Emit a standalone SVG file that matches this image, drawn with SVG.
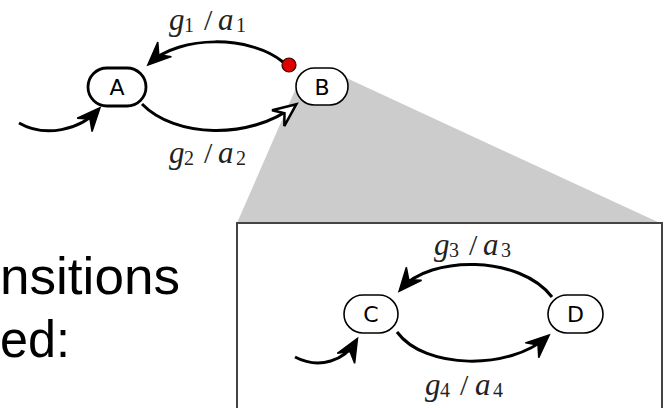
<svg xmlns="http://www.w3.org/2000/svg" width="667" height="408" viewBox="0 0 667 408">
<defs>
<style>
.edge{fill:none;stroke:#000;stroke-width:3;}
.node{fill:#fff;stroke:#000;}
.nlab{font-family:"DejaVu Sans",sans-serif;font-size:22px;text-anchor:middle;fill:#000;}
.m{font-family:"Liberation Serif",serif;font-style:italic;font-size:31px;fill:#222;}
.s{font-family:"Liberation Serif",serif;font-size:20px;fill:#222;}
.sl{font-family:"Liberation Serif",serif;font-size:30px;fill:#222;}
.big{font-family:"Liberation Sans",sans-serif;font-size:52px;fill:#000;}
</style>
<marker id="arr" viewBox="-26 -13 30 26" refX="-3" refY="0" markerWidth="30" markerHeight="26" markerUnits="userSpaceOnUse" orient="auto">
<path d="M0,0 L-23,-10 L-15,0 L-23,10 Z" fill="#000" stroke="#000" stroke-width="1.5" stroke-linejoin="miter"/>
</marker>
<marker id="arrOpen" viewBox="-26 -13 30 26" refX="-3" refY="0" markerWidth="30" markerHeight="26" markerUnits="userSpaceOnUse" orient="auto">
<path d="M0,0 L-23,-10 L-15,0 L-23,10 Z" fill="#fff" stroke="#000" stroke-width="2.5" stroke-linejoin="miter"/>
</marker>
</defs>
<rect width="667" height="408" fill="#fff"/>
<polygon id="zoom-wedge" points="296,88 340,75 660,223 237,223" fill="#cccccc"/>
<rect id="zoom-box" x="237" y="223" width="425" height="200" fill="#fff" stroke="#444" stroke-width="2"/>
<text class="big" x="0" y="294" textLength="180" lengthAdjust="spacingAndGlyphs">nsitions</text>
<text class="big" x="0" y="357" textLength="70" lengthAdjust="spacingAndGlyphs">ed:</text>
<g id="connectors">
<path class="edge" d="M283,62 C250,35 180,35 150,63" marker-end="url(#arr)"/>
<path class="edge" d="M142,104 C175,138 250,140 294,106" marker-end="url(#arrOpen)"/>
<path class="edge" d="M19,123 C45,138 80,130 98,110" marker-end="url(#arr)"/>
<path class="edge" d="M552,297 C520,255 430,255 401,289" marker-end="url(#arr)"/>
<path class="edge" d="M397,332 C425,370 510,370 547,337" marker-end="url(#arr)"/>
<path class="edge" d="M295,357 C320,370 345,360 356,341" marker-end="url(#arr)"/>
</g>
<g id="labels">
<text><tspan class="m" x="169" y="30">g</tspan><tspan class="s" x="184" y="32">1</tspan><tspan class="sl" x="204" y="30">/</tspan><tspan class="m" x="218" y="30">a</tspan><tspan class="s" x="236" y="32">1</tspan></text>
<text><tspan class="m" x="169" y="163">g</tspan><tspan class="s" x="184" y="165">2</tspan><tspan class="sl" x="204" y="163">/</tspan><tspan class="m" x="218" y="163">a</tspan><tspan class="s" x="236" y="165">2</tspan></text>
<text><tspan class="m" x="434" y="255">g</tspan><tspan class="s" x="449" y="257">3</tspan><tspan class="sl" x="469" y="255">/</tspan><tspan class="m" x="483" y="255">a</tspan><tspan class="s" x="501" y="257">3</tspan></text>
<text><tspan class="m" x="425" y="395">g</tspan><tspan class="s" x="440" y="397">4</tspan><tspan class="sl" x="460" y="395">/</tspan><tspan class="m" x="475" y="395">a</tspan><tspan class="s" x="493" y="397">4</tspan></text>
</g>
<g id="node-A">
<rect class="node" x="88" y="68" width="58" height="38" rx="19" stroke-width="2.8"/>
<text class="nlab" x="117" y="94.5">A</text>
</g>
<g id="node-B">
<rect class="node" x="296" y="68" width="52" height="37" rx="18.5" stroke-width="1.6"/>
<text class="nlab" x="322" y="94.5">B</text>
</g>
<g id="history-dot">
<circle cx="289" cy="65" r="7" fill="#e00000" stroke="#300" stroke-width="1.2"/>
</g>
<g id="node-C">
<rect class="node" x="344" y="295" width="54" height="38" rx="19" stroke-width="1.6"/>
<text class="nlab" x="371" y="321.5">C</text>
</g>
<g id="node-D">
<rect class="node" x="548" y="295" width="55" height="38" rx="19" stroke-width="1.6"/>
<text class="nlab" x="575.5" y="321.5">D</text>
</g>
</svg>
